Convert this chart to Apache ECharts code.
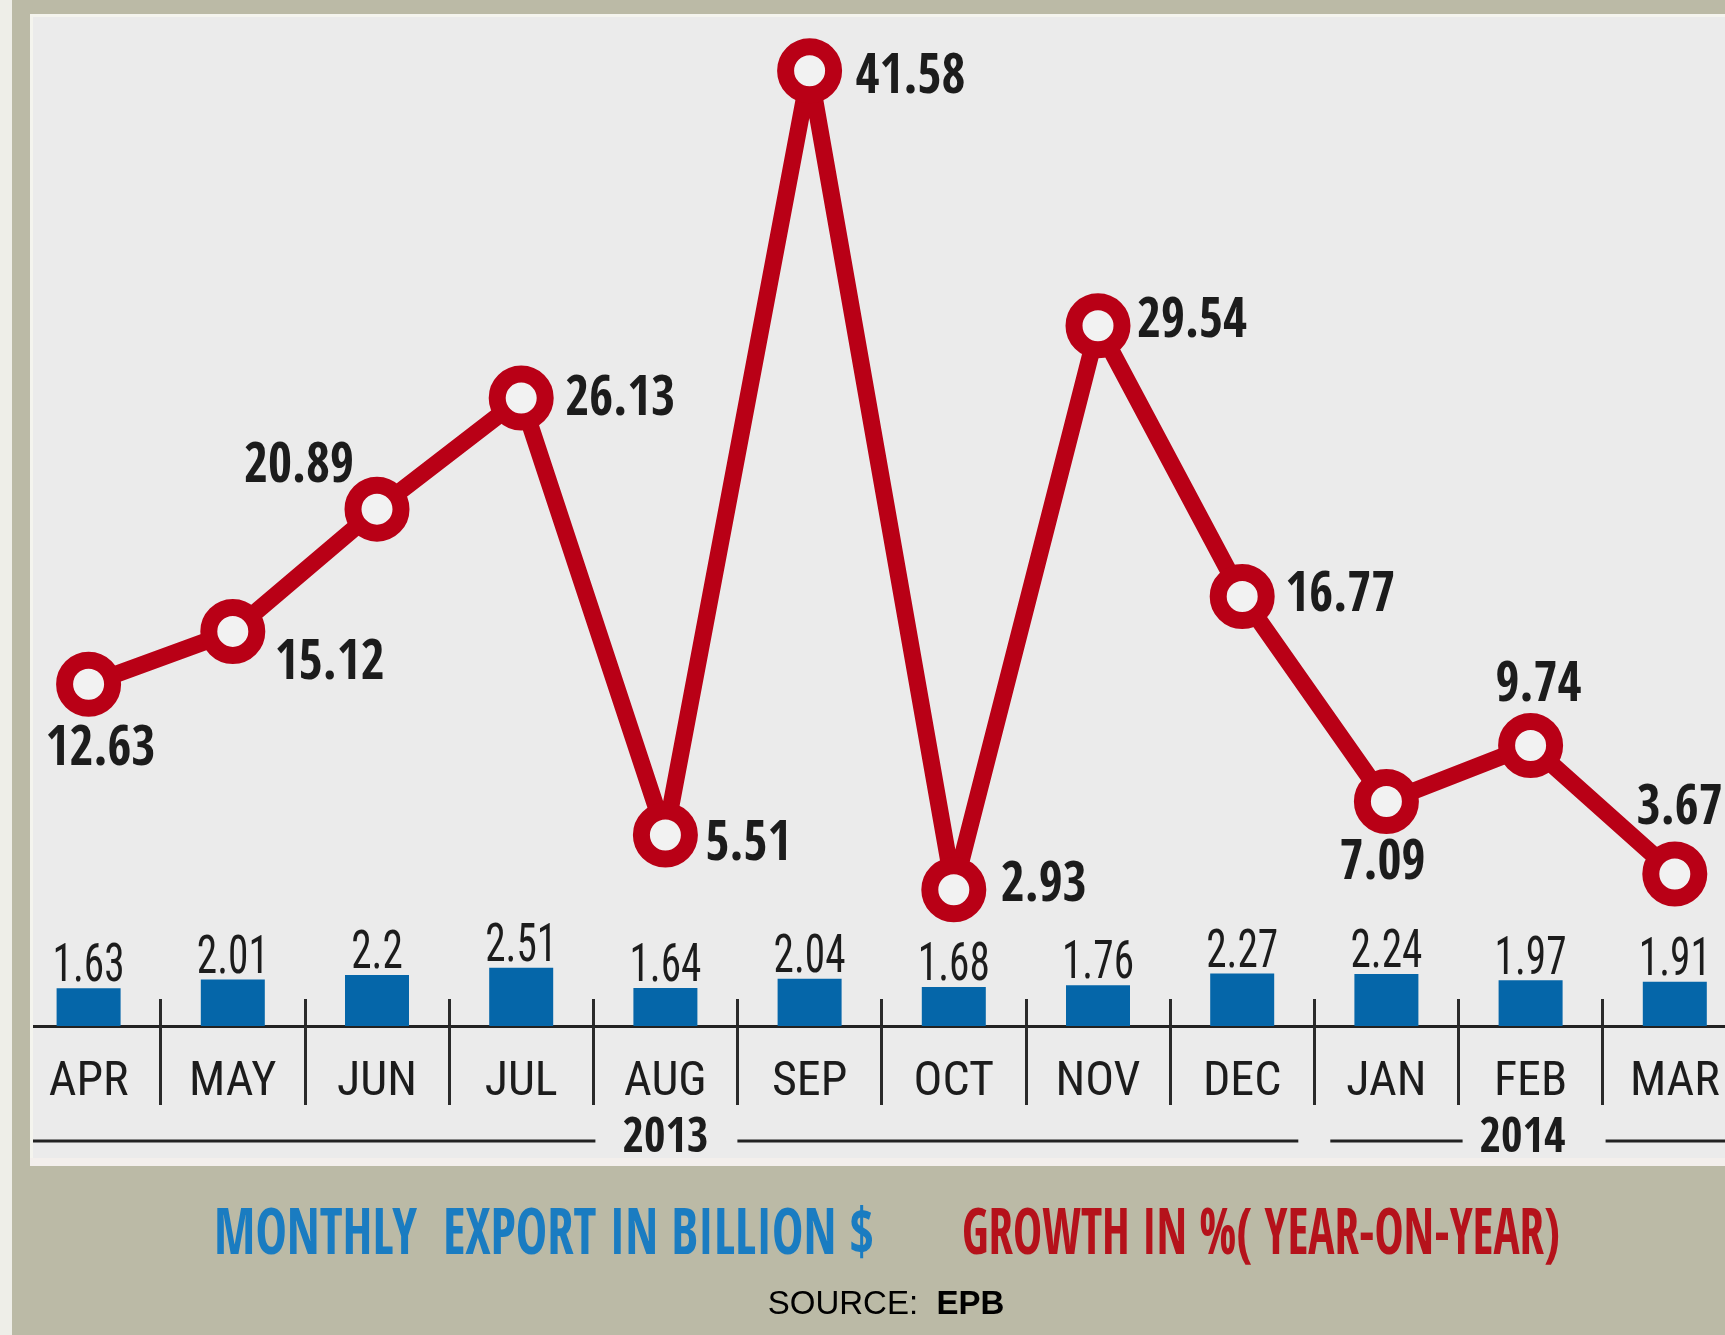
<!DOCTYPE html>
<html><head><meta charset="utf-8">
<script src="https://cdn.jsdelivr.net/npm/echarts@6/dist/echarts.min.js"></script>
<style>html,body{margin:0;padding:0;background:#ebebeb;} #chart{width:1725px;height:1335px;}</style>
</head><body><div id="chart"></div>
<script>
// ---------- data ----------
const categories = ['APR','MAY','JUN','JUL','AUG','SEP','OCT','NOV','DEC','JAN','FEB','MAR'];
const exportValues = [1.63, 2.01, 2.2, 2.51, 1.64, 2.04, 1.68, 1.76, 2.27, 2.24, 1.97, 1.91];
const growthValues = [12.63, 15.12, 20.89, 26.13, 5.51, 41.58, 2.93, 29.54, 16.77, 7.09, 9.74, 3.67];
const yearLabels = ['2013', '2014'];
const yearAnchorMonths = ['AUG', 'FEB'];
const yearBreakAfter = 'DEC';
const legendTexts = ['MONTHLY  EXPORT IN BILLION $', 'GROWTH IN %( YEAR-ON-YEAR)'];
const sourceLabel = 'SOURCE:';
const sourceName = 'EPB';

// ---------- fonts ----------
const NARROW = '"Roboto Condensed","DejaVu Sans Condensed",sans-serif';
const NARROW_BOLD = '"Open Sans Condensed","Roboto Condensed","DejaVu Sans Condensed",sans-serif';
function measure(text, font) {
  const c = document.createElement('canvas').getContext('2d');
  c.font = font; return c.measureText(text).width;
}

// ---------- styles ----------
const KHAKI = '#bbbaa6', PANEL = '#ebebeb', RED = '#b90016', BLUE = '#0566a9', INK = '#1c1c1c';
const LEG_BLUE = '#1a7cc1', LEG_RED = '#b5121b';
const LINE_FONT = 'bold 55px ' + NARROW_BOLD;
const LINE_SCALE = 110 / measure('41.58', LINE_FONT);
const BAR_FONT = '53px ' + NARROW;
const BAR_SCALE = 72 / measure('1.63', BAR_FONT);
const monthW100 = measure('APR', '100px ' + NARROW);
const MONTH_SIZE = Math.round(Math.min(61, 80 / (monthW100 / 100)));

// label placement relative to each marker centre: [dx, dy, align]
const lineLabelPlacements = [
  [12, 63, 'center'], [42, 30, 'left'], [-23, -44, 'right'], [44, 0, 'left'],
  [40, 8, 'left'], [46, 5, 'left'], [47, -6, 'left'], [39, -6, 'left'],
  [43, -3, 'left'], [-4, 60, 'center'], [8, -62, 'center'], [-38, -67, 'left']
];

const GRID_LEFT = 16.5, GRID_W = 1730.4;
const chart = echarts.init(document.getElementById('chart'), null, {renderer: 'canvas', width: 1725, height: 1335});

const option = {
  animation: false,
  backgroundColor: PANEL,
  grid: [
    {left: GRID_LEFT, width: GRID_W, top: 30, height: 996, outerBoundsMode: 'none', containLabel: false},
    {left: GRID_LEFT, width: GRID_W, top: 999, height: 27, outerBoundsMode: 'none', containLabel: false}
  ],
  xAxis: [
    {
      type: 'category', gridIndex: 0, data: categories, position: 'bottom', boundaryGap: true,
      axisLine: {show: true, lineStyle: {color: '#222', width: 3}},
      axisTick: {show: true, interval: 0, length: 79, lineStyle: {color: '#2a2a2a', width: 3}},
      axisLabel: {show: true, interval: 0, margin: 33, fontSize: MONTH_SIZE, fontFamily: NARROW, color: INK},
      splitLine: {show: false}
    },
    {
      type: 'category', gridIndex: 1, data: categories, position: 'bottom', boundaryGap: true,
      axisLine: {show: false}, axisTick: {show: false}, axisLabel: {show: false},
      splitLine: {show: true, interval: 0, lineStyle: {color: '#2a2a2a', width: 3}}
    }
  ],
  yAxis: [
    {type: 'value', gridIndex: 0, min: 0, max: 43, show: false},
    {type: 'value', gridIndex: 0, min: -3.5, max: 43.5, show: false},
    {type: 'value', gridIndex: 1, min: 0, max: 1, show: false}
  ],
  series: [
    {
      name: 'Monthly export (billion $)', type: 'bar', xAxisIndex: 0, yAxisIndex: 0,
      data: exportValues, barWidth: 64, itemStyle: {color: BLUE}, silent: true
    },
    {
      name: 'Export labels', type: 'custom', xAxisIndex: 0, yAxisIndex: 0, silent: true, z: 4,
      data: exportValues.map((v, i) => [i, v]),
      renderItem: (params, api) => {
        const p = api.coord([api.value(0), api.value(1)]);
        return {type: 'text', x: p[0], y: p[1] - 20, scaleX: BAR_SCALE,
          style: {text: String(api.value(1)), font: BAR_FONT, fill: INK, align: 'center', verticalAlign: 'middle'}};
      }
    },
    {
      name: 'Growth in % (year-on-year)', type: 'line', xAxisIndex: 0, yAxisIndex: 1,
      data: growthValues,
      symbol: 'circle', symbolSize: 48,
      lineStyle: {color: RED, width: 17},
      itemStyle: {color: '#f2f2f2', borderColor: RED, borderWidth: 17},
      z: 5, silent: true
    },
    {
      name: 'Growth labels', type: 'custom', xAxisIndex: 0, yAxisIndex: 1, silent: true, z: 6,
      data: growthValues.map((v, i) => [i, v]),
      renderItem: (params, api) => {
        const p = api.coord([api.value(0), api.value(1)]);
        const pl = lineLabelPlacements[params.dataIndex];
        return {type: 'text', x: p[0] + pl[0], y: p[1] + pl[1] + 3, scaleX: LINE_SCALE,
          style: {text: String(api.value(1)), font: LINE_FONT, fill: INK, align: pl[2], verticalAlign: 'middle'}};
      }
    }
  ]
};
chart.setOption(option);

// ---------- decorations computed from the axis ----------
const xAt = name => chart.convertToPixel({xAxisIndex: 0}, name);
const idx = name => categories.indexOf(name);
const boundaryAfter = name => (xAt(name) + xAt(categories[idx(name) + 1])) / 2;

const g = [];
g.push({type: 'rect', id: 'fTop', shape: {x: 0, y: 0, width: 1725, height: 14}, style: {fill: KHAKI}, z: 50});
g.push({type: 'rect', id: 'fTopL', shape: {x: 30, y: 14, width: 1695, height: 3}, style: {fill: '#f4f4ee'}, z: 50});
g.push({type: 'rect', id: 'fLeftW', shape: {x: 0, y: 0, width: 12, height: 1335}, style: {fill: '#eeeee8'}, z: 51});
g.push({type: 'rect', id: 'fLeft', shape: {x: 12, y: 0, width: 18, height: 1335}, style: {fill: KHAKI}, z: 51});
g.push({type: 'rect', id: 'fLeftL', shape: {x: 30, y: 14, width: 3, height: 1152}, style: {fill: '#f4f4ee'}, z: 50});
g.push({type: 'rect', id: 'fBotL', shape: {x: 30, y: 1158, width: 1695, height: 8}, style: {fill: '#f3efec'}, z: 50});
g.push({type: 'rect', id: 'fBot', shape: {x: 0, y: 1166, width: 1725, height: 169}, style: {fill: KHAKI}, z: 50});

const ruleY = 1141;
const YEAR_FONT = 'bold 48px ' + NARROW_BOLD;
const YEAR_SCALE = 86 / measure('2013', YEAR_FONT);
const c2013 = xAt(yearAnchorMonths[0]);
const c2014 = xAt(yearAnchorMonths[1]);
const brk = boundaryAfter(yearBreakAfter);
[[c2013, yearLabels[0]], [c2014 - 8, yearLabels[1]]].forEach(([cx, t], i) => {
  g.push({type: 'text', id: 'yr' + i, x: cx, y: 1139, scaleX: YEAR_SCALE, z: 60,
    style: {text: t, font: YEAR_FONT, fill: INK, align: 'center', verticalAlign: 'middle'}});
});
const rules = [[33, c2013 - 70], [c2013 + 72, brk - 16], [brk + 16, c2014 - 68], [c2014 + 75, 1725]];
rules.forEach(([a, b], i) => {
  g.push({type: 'line', id: 'rule' + i, z: 60, shape: {x1: a, y1: ruleY, x2: b, y2: ruleY},
    style: {stroke: '#222', lineWidth: 3}});
});

const LEG_FONT = 'bold 64px ' + NARROW_BOLD;
[[legendTexts[0], 214, 660, LEG_BLUE], [legendTexts[1], 962, 598, LEG_RED]].forEach(([t, left, w, col], i) => {
  g.push({type: 'text', id: 'leg' + i, x: left, y: 1237, scaleX: w / measure(t, LEG_FONT), z: 70,
    style: {text: t, font: LEG_FONT, fill: col, align: 'left', verticalAlign: 'middle'}});
});
g.push({type: 'text', id: 'src', x: 886, y: 1305, z: 70,
  style: {text: '{a|' + sourceLabel + '  }{b|' + sourceName + '}', align: 'center', verticalAlign: 'middle',
    rich: {a: {fontSize: 33, fontFamily: '"Liberation Sans",sans-serif', color: '#2a2a2a'},
           b: {fontSize: 33, fontWeight: 'bold', fontFamily: '"Liberation Sans",sans-serif', color: '#2a2a2a'}}}});

chart.setOption({graphic: g});
</script></body></html>
